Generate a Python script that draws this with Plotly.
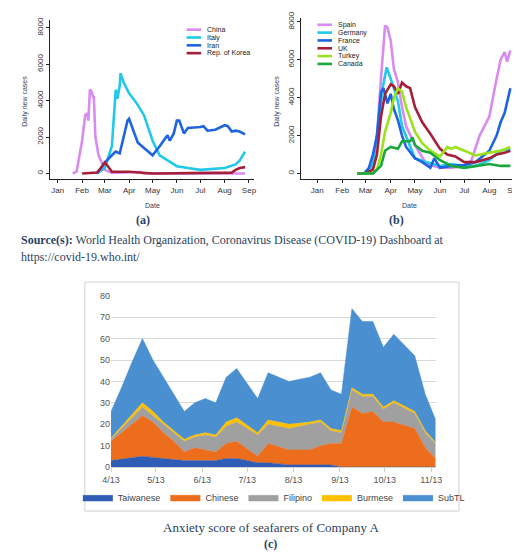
import plotly.graph_objects as go
import numpy as np
import pandas as pd

W, H = 520, 556
def fx(px): return px / W
def fy(px): return 1 - px / H

# ---------- panel (a) ----------
china_d = ["2020-01-20","2020-01-25","2020-02-01","2020-02-05","2020-02-08","2020-02-09","2020-02-11","2020-02-13","2020-02-15","2020-02-16","2020-02-18","2020-02-22","2020-03-01","2020-03-10","2020-04-15","2020-04-20","2020-08-27"]
china_v = [0,100,1800,3200,3300,2900,4600,4500,4200,4200,2000,1000,200,30,80,0,0]
italy_d = ["2020-02-20","2020-03-01","2020-03-10","2020-03-15","2020-03-17","2020-03-20","2020-03-21","2020-03-25","2020-04-01","2020-04-10","2020-04-20","2020-05-01","2020-05-10","2020-06-01","2020-06-15","2020-07-01","2020-08-01","2020-08-15","2020-08-20","2020-08-27"]
italy_v = [0,300,1500,4600,4100,4800,5500,5000,4400,3900,3200,1800,1000,400,300,200,300,500,700,1200]
iran_d = ["2020-02-20","2020-03-01","2020-03-10","2020-03-15","2020-03-20","2020-03-25","2020-03-30","2020-04-01","2020-04-05","2020-04-12","2020-04-20","2020-05-01","2020-05-10","2020-05-20","2020-05-23","2020-05-28","2020-06-01","2020-06-04","2020-06-10","2020-06-15","2020-07-01","2020-07-05","2020-07-10","2020-07-20","2020-08-01","2020-08-05","2020-08-10","2020-08-15","2020-08-20","2020-08-27"]
iran_v = [0,600,1000,1200,1100,2000,2900,3000,2500,1700,1400,1000,1500,2100,1800,2200,2900,2900,2200,2500,2550,2600,2350,2400,2650,2600,2300,2350,2300,2150]
korea_d = ["2020-02-01","2020-02-20","2020-02-25","2020-03-01","2020-03-05","2020-03-10","2020-03-15","2020-04-01","2020-05-01","2020-07-01","2020-08-10","2020-08-15","2020-08-20","2020-08-27"]
korea_v = [0,50,300,600,400,100,100,100,0,50,50,200,300,350]

# ---------- panel (b) ----------
spain_d = ["2020-02-20","2020-03-01","2020-03-10","2020-03-15","2020-03-20","2020-03-25","2020-03-28","2020-04-01","2020-04-05","2020-04-10","2020-04-15","2020-04-20","2020-05-01","2020-05-15","2020-06-01","2020-06-15","2020-07-01","2020-07-10","2020-07-20","2020-08-01","2020-08-10","2020-08-15","2020-08-20","2020-08-23","2020-08-27"]
spain_v = [0,0,300,2000,5000,7800,7700,7000,5500,4800,3500,2500,1500,500,300,300,400,700,2000,3000,5000,6000,6400,5900,6500]
germany_d = ["2020-02-20","2020-03-01","2020-03-10","2020-03-15","2020-03-22","2020-03-27","2020-04-01","2020-04-05","2020-04-10","2020-04-15","2020-04-25","2020-05-01","2020-05-15","2020-06-01","2020-06-15","2020-07-01","2020-07-15","2020-08-01","2020-08-15","2020-08-27"]
germany_v = [0,0,500,2000,4500,5600,5000,4500,3800,2500,1500,800,600,400,500,400,400,700,1200,1300]
france_d = ["2020-02-20","2020-02-28","2020-03-05","2020-03-10","2020-03-15","2020-03-20","2020-03-23","2020-03-28","2020-04-01","2020-04-05","2020-04-10","2020-04-15","2020-04-20","2020-05-01","2020-05-10","2020-05-20","2020-05-25","2020-06-01","2020-06-15","2020-07-01","2020-07-15","2020-08-01","2020-08-10","2020-08-15","2020-08-20","2020-08-27"]
france_v = [0,0,300,1000,2000,4300,4500,3700,4200,3400,2800,2000,1400,800,600,300,800,300,400,450,600,1200,2000,2700,3200,4500]
uk_d = ["2020-02-20","2020-03-01","2020-03-10","2020-03-15","2020-03-20","2020-03-25","2020-04-01","2020-04-05","2020-04-10","2020-04-15","2020-04-20","2020-04-25","2020-05-01","2020-05-10","2020-05-20","2020-06-01","2020-06-10","2020-06-20","2020-07-01","2020-07-15","2020-08-01","2020-08-10","2020-08-20","2020-08-27"]
uk_v = [0,0,200,1000,3000,4200,4700,4600,4200,4800,4600,4500,3500,2700,2100,1300,1000,900,600,600,800,1000,1100,1200]
turkey_d = ["2020-02-20","2020-03-10","2020-03-15","2020-03-20","2020-03-25","2020-04-01","2020-04-05","2020-04-10","2020-04-15","2020-04-20","2020-05-01","2020-05-10","2020-05-20","2020-06-01","2020-06-10","2020-06-15","2020-06-20","2020-07-01","2020-07-15","2020-08-01","2020-08-15","2020-08-27"]
turkey_v = [0,0,200,1000,2200,3200,4000,4500,4300,3500,2200,1600,1200,900,1400,1300,1400,1200,950,1100,1200,1400]
canada_d = ["2020-02-20","2020-03-10","2020-03-20","2020-03-25","2020-04-01","2020-04-10","2020-04-15","2020-04-25","2020-04-28","2020-05-01","2020-05-10","2020-05-20","2020-06-01","2020-06-15","2020-07-01","2020-07-15","2020-08-01","2020-08-15","2020-08-27"]
canada_v = [0,0,400,1200,1400,1300,1700,1700,1900,1500,1200,1100,700,400,300,400,500,400,400]

month_ticks = ["2020-01-01","2020-02-01","2020-03-01","2020-04-01","2020-05-01","2020-06-01","2020-07-01","2020-08-01","2020-09-01"]
month_labels = ["Jan","Feb","Mar","Apr","May","Jun","Jul","Aug","Sep"]

# ---------- panel (c) ----------
week_start = "2020-04-13"
taiwanese_top = [3,3.7,4.3,5,4.5,4,3.5,3,3,3,3,4,4,3,2,2,1.5,1,1,1,1,1,0,0,0,0,0,0,0,0,0,0]
chinese_top = [12,16,20,24,21,16,12,7,9,8,7,11,12,8.5,5,11,9.5,8,8,8,10,11,11,28,25,26,21,21,19.5,18,9,4]
filipino_top = [13,18,23,28,24,20,16,12,14,15,14,19,21,18,15,20,19,18,19,20,21,17,16,36,33,33,27,30,27.5,25,16,11]
burmese_top = [13.5,19,25,30,26,21,17,13,15,16,15,21,23,19.5,16,22,21,20,20.5,21,22,18,17,37,34,34,28,31,28.5,26,17,11.5]
subtl_top = [26,37,49,60,50,42,34,26,30,32,30,42,46,39,32,44,42,40,41,42,44,36,34,74,68,68,56,62,57,52,34,22]
c_ticks = ["2020-04-13","2020-05-13","2020-06-13","2020-07-13","2020-08-13","2020-09-13","2020-10-13","2020-11-13"]
c_labels = ["4/13","5/13","6/13","7/13","8/13","9/13","10/13","11/13"]

fig = go.Figure()
tickfont = dict(family="Liberation Sans", size=8, color="#333")
shapes, ann = [], []

def add_lines(specs, xa, ya, lx, ly0):
    for i, (name, d, v, col) in enumerate(specs):
        fig.add_trace(go.Scatter(x=pd.to_datetime(d), y=v, name=name, mode="lines", showlegend=False,
                                 line=dict(color=col, width=2.6), xaxis=xa, yaxis=ya))
        yy = ly0 + 8 * i
        shapes.append(dict(type="line", xref="paper", yref="paper", x0=fx(lx), x1=fx(lx + 15),
                           y0=fy(yy), y1=fy(yy), line=dict(color=col, width=2.6)))
        ann.append(dict(x=fx(lx + 19), y=fy(yy), xanchor="left", text=name,
                        font=dict(size=7, family="Liberation Sans", color="#222")))

add_lines([("China", china_d, china_v, "#D98BF2"), ("Italy", italy_d, italy_v, "#22C8E8"),
           ("Iran", iran_d, iran_v, "#1E64E0"), ("Rep. of Korea", korea_d, korea_v, "#A4203A")], "x", "y", 175, 15)
add_lines([("Spain", spain_d, spain_v, "#D98BF2"), ("Germany", germany_d, germany_v, "#22C8E8"),
           ("France", france_d, france_v, "#1E64E0"), ("UK", uk_d, uk_v, "#A4203A"),
           ("Turkey", turkey_d, turkey_v, "#9BE21C"), ("Canada", canada_d, canada_v, "#18A83C")], "x2", "y2", 310, 10)

dates_c = pd.date_range(week_start, periods=len(subtl_top), freq="7D")
tops = [taiwanese_top, chinese_top, filipino_top, burmese_top, subtl_top]
names_c = ["Taiwanese", "Chinese", "Filipino", "Burmese", "SubTL"]
cols_c = ["#2F5DB5", "#EC6D1C", "#A0A0A0", "#FFC000", "#4A8FD0"]
prev = np.zeros(len(subtl_top))
for nm, t, c in zip(names_c, tops, cols_c):
    t = np.array(t, dtype=float)
    fig.add_trace(go.Scatter(x=dates_c, y=t - prev, name=nm, stackgroup="c", mode="lines",
                             line=dict(width=0.5, color=c), fillcolor=c, xaxis="x3", yaxis="y3"))
    prev = t

ax_common = dict(showline=True, linecolor="#222", linewidth=1, ticks="outside", ticklen=3,
                 tickcolor="#222", showgrid=False, zeroline=False, tickfont=tickfont)
lay = dict(
    width=W, height=H, margin=dict(l=0, r=0, t=0, b=0), paper_bgcolor="white", plot_bgcolor="white",
    xaxis=dict(domain=[fx(34), fx(245)], anchor="y", type="date", range=["2019-12-22", "2020-09-08"],
               tickvals=month_ticks, ticktext=month_labels, **ax_common),
    yaxis=dict(domain=[fy(168), fy(5)], anchor="x", range=[-322, 8430], tickvals=[0, 2000, 4000, 6000, 8000],
               tickangle=-90, **ax_common),
    xaxis2=dict(domain=[fx(293), fx(514)], anchor="y2", type="date", range=["2019-12-12", "2020-09-02"],
                tickvals=month_ticks, ticktext=month_labels, **ax_common),
    yaxis2=dict(domain=[fy(168), fy(3)], anchor="x2", range=[-310, 8206], tickvals=[0, 2000, 4000, 6000, 8000],
                tickangle=-90, **ax_common),
    xaxis3=dict(domain=[fx(97), fx(432)], anchor="y3", type="date", range=["2020-04-13", "2020-11-16"],
                tickvals=c_ticks, ticktext=c_labels, showline=True, linecolor="#d0d0d0", ticks="outside",
                tickcolor="#d0d0d0", ticklen=4, showgrid=False, tickfont=dict(family="Liberation Sans", size=9, color="#555")),
    yaxis3=dict(domain=[fy(462), fy(287)], anchor="x3", range=[0, 80], dtick=10, showgrid=True,
                gridcolor="#d9d9d9", zeroline=False, showline=False, ticks="",
                tickfont=dict(family="Liberation Sans", size=9, color="#555")),
    legend=dict(x=fx(265), y=fy(493), xanchor="center", yanchor="middle", orientation="h",
                bgcolor="rgba(0,0,0,0)", font=dict(family="Liberation Sans", size=9, color="#444"), traceorder="normal"),
    showlegend=True,
)
fig.update_layout(**lay)

serif = "Liberation Serif"
ann += [
    dict(x=fx(8), y=fy(88), text="Daily new cases", textangle=-90, font=dict(size=7, family="Liberation Sans")),
    dict(x=fx(268), y=fy(88), text="Daily new cases", textangle=-90, font=dict(size=7, family="Liberation Sans")),
    dict(x=fx(140), y=fy(195), text="Date", font=dict(size=7, family="Liberation Sans")),
    dict(x=fx(405), y=fy(195), text="Date", font=dict(size=7, family="Liberation Sans")),
    dict(x=fx(130), y=fy(210), text="<b>(a)</b>", font=dict(size=12, family=serif)),
    dict(x=fx(392), y=fy(210), text="<b>(b)</b>", font=dict(size=12, family=serif)),
    dict(x=fx(2), y=fy(230), xanchor="left", text="<b>Source(s):</b> World Health Organization, Coronavirus Disease (COVID-19) Dashboard at",
         font=dict(size=12, family=serif)),
    dict(x=fx(2), y=fy(247), xanchor="left", text="https://covid-19.who.int/", font=dict(size=12, family=serif)),
    dict(x=fx(262), y=fy(524), text="Anxiety score of seafarers of Company A", font=dict(size=13, family=serif)),
    dict(x=fx(262), y=fy(541), text="<b>(c)</b>", font=dict(size=12, family=serif)),
]
for a in ann:
    a.update(xref="paper", yref="paper", showarrow=False)
    a.setdefault("xanchor", "center")
    a["yanchor"] = "middle"
shapes.append(dict(type="rect", xref="paper", yref="paper", x0=fx(70), x1=fx(456), y0=fy(507), y1=fy(273),
                   line=dict(color="#d0d0d0", width=1)))
fig.update_layout(annotations=ann, shapes=shapes)
fig.write_html("out.html")
